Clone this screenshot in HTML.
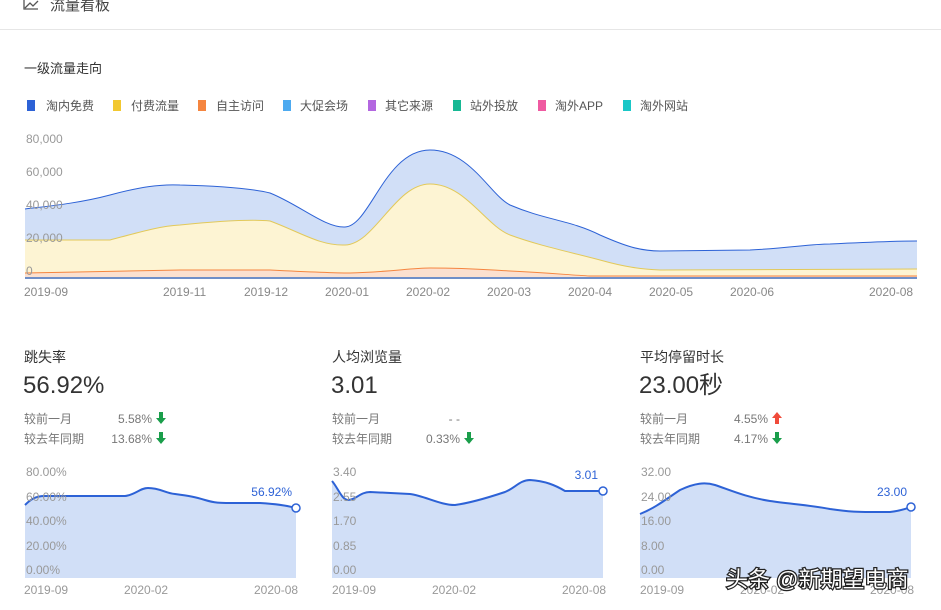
<!DOCTYPE html>
<html><head><meta charset="utf-8"><style>
body{margin:0;width:941px;height:610px;background:#fff;overflow:hidden;font-family:"Liberation Sans","Noto Sans CJK SC",sans-serif;}
svg{position:absolute;left:0;top:0}
text{font-family:"Liberation Sans","Noto Sans CJK SC",sans-serif;}
</style></head><body>
<svg width="941" height="610" viewBox="0 0 941 610">
<path d="M24 0 V9 H38 M25 8 L30 3 L33 6 L38 1" fill="none" stroke="#555" stroke-width="1.3"/>
<text x="50" y="10" font-size="15" fill="#444">流量看板</text>
<line x1="0" y1="29.5" x2="941" y2="29.5" stroke="#e6e6e6"/>
<text x="24" y="73" font-size="13" fill="#333">一级流量走向</text>
<g font-size="12" fill="#555">
<rect x="27" y="100" width="8" height="11" fill="#2d62d6"/><text x="46" y="110">淘内免费</text>
<rect x="113" y="100" width="8" height="11" fill="#f2c830"/><text x="131" y="110">付费流量</text>
<rect x="198" y="100" width="8" height="11" fill="#f5853f"/><text x="216" y="110">自主访问</text>
<rect x="283" y="100" width="8" height="11" fill="#4daaf0"/><text x="300" y="110">大促会场</text>
<rect x="368" y="100" width="8" height="11" fill="#b367e0"/><text x="385" y="110">其它来源</text>
<rect x="453" y="100" width="8" height="11" fill="#17b894"/><text x="470" y="110">站外投放</text>
<rect x="538" y="100" width="8" height="11" fill="#ef5aa1"/><text x="555" y="110">淘外APP</text>
<rect x="623" y="100" width="8" height="11" fill="#1ac7c7"/><text x="640" y="110">淘外网站</text>
</g>
<path d="M25 209 C50 206,80 203,110 195 C140 187,160 184,180 185 C220 186,250 188,270 193 C300 205,325 228,345 227 C370 226,385 150,430 150 C470 150,490 195,510 205 C545 220,570 220,600 235 C625 246,640 251,660 251 L750 250 C790 248,810 244,830 244 C870 242,900 241,917 241 L917 279 L25 279 Z" fill="#d1dff7" stroke="none"/>
<path d="M25 209 C50 206,80 203,110 195 C140 187,160 184,180 185 C220 186,250 188,270 193 C300 205,325 228,345 227 C370 226,385 150,430 150 C470 150,490 195,510 205 C545 220,570 220,600 235 C625 246,640 251,660 251 L750 250 C790 248,810 244,830 244 C870 242,900 241,917 241" fill="none" stroke="#2d62d6" stroke-width="1"/>
<path d="M25 240 L110 240 C140 232,160 226,180 225 C220 221,250 219,270 221 C300 232,320 246,345 245 C375 244,395 184,430 184 C465 184,485 225,510 235 C540 246,570 252,600 260 C625 267,640 269,660 270 L917 269 L917 279 L25 279 Z" fill="#fdf4d3"/>
<path d="M25 240 L110 240 C140 232,160 226,180 225 C220 221,250 219,270 221 C300 232,320 246,345 245 C375 244,395 184,430 184 C465 184,485 225,510 235 C540 246,570 252,600 260 C625 267,640 269,660 270 L917 269" fill="none" stroke="#e2c95a" stroke-width="1"/>
<path d="M25 273 C80 272,140 271,180 270 L270 270 C310 272,330 273,350 273 C390 272,410 268,430 268 C470 268,490 270,510 271 C550 273,570 275,590 276 L917 276 L917 279 L25 279 Z" fill="#fbe0cf"/>
<path d="M25 273 C80 272,140 271,180 270 L270 270 C310 272,330 273,350 273 C390 272,410 268,430 268 C470 268,490 270,510 271 C550 273,570 275,590 276 L917 276" fill="none" stroke="#f5853f" stroke-width="1"/>
<rect x="25" y="277" width="892" height="2" fill="#6f8fc8"/>
<g font-size="12" fill="#999">
<text x="26" y="143">80,000</text><text x="26" y="176">60,000</text><text x="26" y="209">40,000</text><text x="26" y="242">20,000</text><text x="26" y="275">0</text>
</g>
<g font-size="12" fill="#888">
<text x="24" y="296">2019-09</text><text x="163" y="296">2019-11</text><text x="244" y="296">2019-12</text><text x="325" y="296">2020-01</text><text x="406" y="296">2020-02</text><text x="487" y="296">2020-03</text><text x="568" y="296">2020-04</text><text x="649" y="296">2020-05</text><text x="730" y="296">2020-06</text><text x="869" y="296">2020-08</text>
</g>
<g fill="#333">
<text x="24" y="362" font-size="14">跳失率</text>
<text x="23" y="393" font-size="24">56.92%</text>
<text x="332" y="362" font-size="14">人均浏览量</text>
<text x="331" y="393" font-size="24">3.01</text>
<text x="640" y="362" font-size="14">平均停留时长</text>
<text x="639" y="393" font-size="24">23.00秒</text>
</g>
<g font-size="12" fill="#777">
<text x="24" y="423">较前一月</text><text x="24" y="443">较去年同期</text>
<text x="152" y="423" text-anchor="end">5.58%</text><text x="152" y="443" text-anchor="end">13.68%</text>
<text x="332" y="423">较前一月</text><text x="332" y="443">较去年同期</text>
<text x="460" y="423" text-anchor="end">- -</text><text x="460" y="443" text-anchor="end">0.33%</text>
<text x="640" y="423">较前一月</text><text x="640" y="443">较去年同期</text>
<text x="768" y="423" text-anchor="end">4.55%</text><text x="768" y="443" text-anchor="end">4.17%</text>
</g>
<defs>
<path id="dn" d="M-2 -6 H2 V0 H5 L0 6 L-5 0 H-2 Z"/>
</defs>
<use href="#dn" x="161" y="418" fill="#1a9e4b"/><use href="#dn" x="161" y="438" fill="#1a9e4b"/>
<use href="#dn" x="469" y="438" fill="#1a9e4b"/>
<use href="#dn" x="777" y="438" fill="#1a9e4b"/>
<path d="M777 412 L782 418 H779 V424 H775 V418 H772 Z" fill="#f04b3a"/>
<path d="M25 505 C30 500,35 496,45 496 L125 496 C135 495,140 488,148 488 C160 488,165 493,175 494 C190 496,195 497,205 500 C215 503,220 503,230 503 L260 503 C275 504,285 505,296 508 L296 578 L25 578 Z" fill="#d1dff7"/>
<path d="M25 505 C30 500,35 496,45 496 L125 496 C135 495,140 488,148 488 C160 488,165 493,175 494 C190 496,195 497,205 500 C215 503,220 503,230 503 L260 503 C275 504,285 505,296 508" fill="none" stroke="#2d62d6" stroke-width="2"/>
<circle cx="296" cy="508" r="4" fill="#fff" stroke="#2d62d6" stroke-width="1.5"/>
<text x="292" y="496" font-size="12" fill="#2d62d6" text-anchor="end">56.92%</text>
<g font-size="12" fill="#999">
<text x="26" y="476">80.00%</text><text x="26" y="501">60.00%</text><text x="26" y="525">40.00%</text><text x="26" y="550">20.00%</text><text x="26" y="574">0.00%</text>
<text x="24" y="594">2019-09</text><text x="124" y="594">2020-02</text><text x="254" y="594">2020-08</text>
</g>
<path d="M332 481 C338 488,342 500,348 500 C356 500,360 492,370 492 L410 494 C425 496,440 505,455 505 C470 503,490 497,505 492 C515 488,520 480,530 480 C545 481,555 485,565 491 L603 491 L603 578 L332 578 Z" fill="#d1dff7"/>
<path d="M332 481 C338 488,342 500,348 500 C356 500,360 492,370 492 L410 494 C425 496,440 505,455 505 C470 503,490 497,505 492 C515 488,520 480,530 480 C545 481,555 485,565 491 L603 491" fill="none" stroke="#2d62d6" stroke-width="2"/>
<circle cx="603" cy="491" r="4" fill="#fff" stroke="#2d62d6" stroke-width="1.5"/>
<text x="598" y="479" font-size="12" fill="#2d62d6" text-anchor="end">3.01</text>
<g font-size="12" fill="#999">
<text x="333" y="476">3.40</text><text x="333" y="501">2.55</text><text x="333" y="525">1.70</text><text x="333" y="550">0.85</text><text x="333" y="574">0.00</text>
<text x="332" y="594">2019-09</text><text x="432" y="594">2020-02</text><text x="562" y="594">2020-08</text>
</g>
<path d="M640 514 C655 508,665 500,680 490 C695 483,705 482,715 485 C730 490,745 497,770 501 C790 504,810 505,830 509 C850 512,860 512,870 512 L890 512 C900 511,905 509,911 507 L911 578 L640 578 Z" fill="#d1dff7"/>
<path d="M640 514 C655 508,665 500,680 490 C695 483,705 482,715 485 C730 490,745 497,770 501 C790 504,810 505,830 509 C850 512,860 512,870 512 L890 512 C900 511,905 509,911 507" fill="none" stroke="#2d62d6" stroke-width="2"/>
<circle cx="911" cy="507" r="4" fill="#fff" stroke="#2d62d6" stroke-width="1.5"/>
<text x="907" y="496" font-size="12" fill="#2d62d6" text-anchor="end">23.00</text>
<g font-size="12" fill="#999">
<text x="641" y="476">32.00</text><text x="641" y="501">24.00</text><text x="641" y="525">16.00</text><text x="641" y="550">8.00</text><text x="641" y="574">0.00</text>
<text x="640" y="594">2019-09</text><text x="740" y="594">2020-02</text><text x="870" y="594">2020-08</text>
</g>
<text x="726" y="587" font-size="22" fill="#fff" stroke="#222" stroke-width="2.5" paint-order="stroke">头条 @新期望电商</text>
</svg>
</body></html>
